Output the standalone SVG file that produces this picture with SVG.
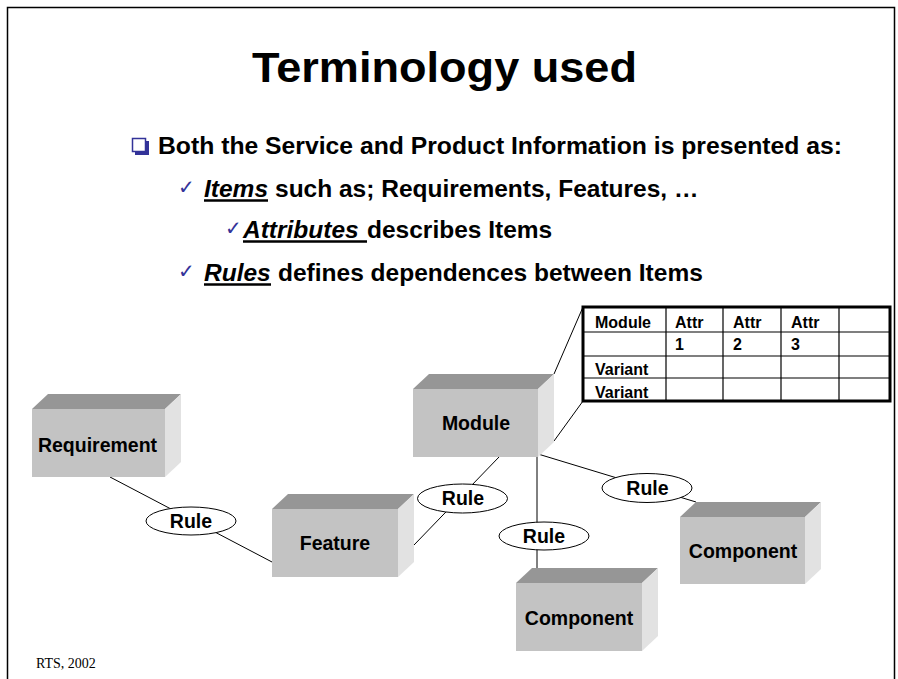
<svg xmlns="http://www.w3.org/2000/svg" width="898" height="679" viewBox="0 0 898 679">
<style>
.t{font-family:"Liberation Sans",Arial,sans-serif;font-weight:bold;fill:#000}
.i{font-style:italic}
.ck{font-family:"DejaVu Sans",sans-serif;fill:#333399;font-size:20px}
.front{fill:#C3C3C3}
.top{fill:#969696}
.side{fill:#E2E2E2}
.lbl{font-family:"Liberation Sans",Arial,sans-serif;font-weight:bold;font-size:19.5px;text-anchor:middle;fill:#000}
.rule{fill:#fff;stroke:#000;stroke-width:1}
.conn line{stroke:#000;stroke-width:1}
.tb{font-family:"Liberation Sans",Arial,sans-serif;font-weight:bold;font-size:16px;fill:#000}
</style>
<rect width="898" height="679" fill="#fff"/>
<path d="M7.5,679 V7.5 H894.5 V679" fill="none" stroke="#000" stroke-width="1.5"/>
<text class="t" x="444.5" y="82" font-size="42" text-anchor="middle" textLength="385" lengthAdjust="spacingAndGlyphs">Terminology used</text>
<g id="bullets">
<rect x="135" y="141" width="14" height="14" fill="#333399"/>
<rect x="132.5" y="138.5" width="13" height="13" fill="#fff" stroke="#333399" stroke-width="1.5"/>
<text class="t" x="158" y="154" font-size="24.5" textLength="684" lengthAdjust="spacingAndGlyphs">Both the Service and Product Information is presented as:</text>
<text class="ck" x="178" y="194">✓</text>
<text class="t i" x="204" y="197" font-size="24.5">Items</text>
<text class="t" x="275" y="197" font-size="24.5">such as; Requirements, Features, …</text>
<line x1="204" y1="200.5" x2="268" y2="200.5" stroke="#000" stroke-width="2.5"/>
<text class="ck" x="225" y="235">✓</text>
<text class="t i" x="243" y="238" font-size="24.5">Attributes</text>
<text class="t" x="367" y="238" font-size="24.5">describes Items</text>
<line x1="243" y1="241.5" x2="367" y2="241.5" stroke="#000" stroke-width="2.5"/>
<text class="ck" x="178" y="278">✓</text>
<text class="t i" x="204" y="281" font-size="24.5">Rules</text>
<text class="t" x="278" y="281" font-size="24.5">defines dependences between Items</text>
<line x1="204" y1="284.5" x2="271" y2="284.5" stroke="#000" stroke-width="2.5"/>
</g>
<g id="connectors" class="conn">
<line x1="110" y1="477" x2="272" y2="562"/>
<line x1="414" y1="545" x2="499" y2="457"/>
<line x1="537" y1="457" x2="537" y2="568"/>
<line x1="538" y1="454" x2="696" y2="502"/>
<line x1="554" y1="374" x2="583" y2="307"/>
<line x1="554" y1="441" x2="583" y2="401"/>
</g>
<g id="requirement">
<rect class="front" x="32" y="409" width="133" height="68"/>
<polygon class="top" points="32,409 48,394 181,394 165,409"/>
<polygon class="side" points="165,409 181,394 181,462 165,477"/>
<text class="lbl" x="97.5" y="452">Requirement</text>
</g>
<g id="feature">
<rect class="front" x="272" y="509" width="126" height="68"/>
<polygon class="top" points="272,509 288,494 414,494 398,509"/>
<polygon class="side" points="398,509 414,494 414,562 398,577"/>
<text class="lbl" x="335" y="550">Feature</text>
</g>
<g id="module">
<rect class="front" x="413" y="389" width="125" height="68"/>
<polygon class="top" points="413,389 429,374 554,374 538,389"/>
<polygon class="side" points="538,389 554,374 554,442 538,457"/>
<text class="lbl" x="476" y="430">Module</text>
</g>
<g id="component1">
<rect class="front" x="516" y="583" width="126" height="68"/>
<polygon class="top" points="516,583 532,568 658,568 642,583"/>
<polygon class="side" points="642,583 658,568 658,636 642,651"/>
<text class="lbl" x="579" y="625">Component</text>
</g>
<g id="component2">
<rect class="front" x="680" y="517" width="125" height="67"/>
<polygon class="top" points="680,517 696,502 821,502 805,517"/>
<polygon class="side" points="805,517 821,502 821,569 805,584"/>
<text class="lbl" x="743" y="558">Component</text>
</g>
<g id="rule1">
<ellipse class="rule" cx="191" cy="521" rx="45" ry="14"/>
<text class="lbl" x="191" y="527.5">Rule</text>
</g>
<g id="rule2">
<ellipse class="rule" cx="462.5" cy="498.5" rx="45" ry="14.5"/>
<text class="lbl" x="463" y="505">Rule</text>
</g>
<g id="rule3">
<ellipse class="rule" cx="544" cy="536" rx="45" ry="14"/>
<text class="lbl" x="544" y="542.5">Rule</text>
</g>
<g id="rule4">
<ellipse class="rule" cx="647" cy="488" rx="45" ry="14.5"/>
<text class="lbl" x="647.5" y="494.5">Rule</text>
</g>
<g id="table">
<rect x="583" y="307" width="307" height="94" fill="#fff"/>
<g stroke="#000" stroke-width="1.2">
<line x1="583" y1="332" x2="890" y2="332"/>
<line x1="583" y1="356" x2="890" y2="356"/>
<line x1="583" y1="378" x2="890" y2="378"/>
<line x1="666" y1="307" x2="666" y2="401"/>
<line x1="723" y1="307" x2="723" y2="401"/>
<line x1="781" y1="307" x2="781" y2="401"/>
<line x1="839" y1="307" x2="839" y2="401"/>
</g>
<rect x="583" y="307" width="307" height="94" fill="none" stroke="#000" stroke-width="3"/>
<text class="tb" x="595" y="328">Module</text>
<text class="tb" x="675" y="328">Attr</text>
<text class="tb" x="733" y="328">Attr</text>
<text class="tb" x="791" y="328">Attr</text>
<text class="tb" x="675" y="350">1</text>
<text class="tb" x="733" y="350">2</text>
<text class="tb" x="791" y="350">3</text>
<text class="tb" x="595" y="375">Variant</text>
<text class="tb" x="595" y="398">Variant</text>
</g>
<text x="36" y="668" font-family="'Liberation Serif','Times New Roman',serif" font-size="14" fill="#000">RTS, 2002</text>
</svg>
